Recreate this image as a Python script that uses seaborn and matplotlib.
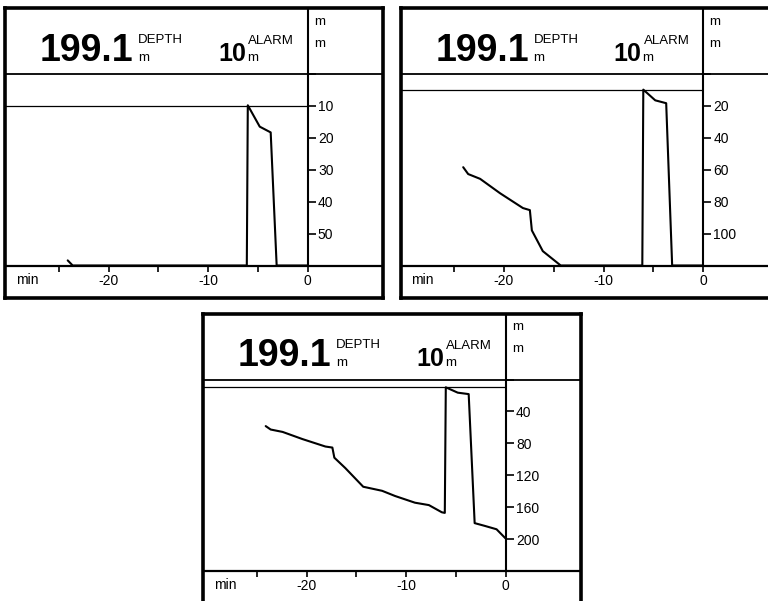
import numpy as np
import seaborn as sns
import matplotlib.pyplot as plt

minutes = [-24.1, -23.6, -22.4, -20.4, -18.1, -17.4, -17.2, -16.1, -14.3, -12.4,
           -11.1, -9.1, -7.7, -6.4, -6.1, -6.0, -4.8, -3.7, -3.1, -2.1, -0.9, 0.0]
depth = [58.4, 62.7, 65.7, 74.7, 84.0, 85.3, 98.0, 111.0, 134.4, 139.5,
         146.0, 154.4, 157.4, 166.4, 167.2, 9.8, 16.5, 18.3, 180.0, 183.4, 187.7, 199.1]

depth_now = "199.1"
alarm = 10
ranges = [60, 120, 240]
steps = [10, 20, 40]
x_ticks = [-25, -20, -15, -10, -5, 0]
x_labels = ["", "-20", "", "-10", "", "0"]

sns.set_style("white")
plt.rcParams["font.family"] = ["Liberation Sans", "DejaVu Sans"]
plt.rcParams["text.color"] = "black"

FW, FH = 768, 601
W, H = 378, 290
AXIS_X, TOP_Y, BOT_Y = 302.5, 66, 257.5
PX_PER_MIN = 9.95


def rect(x, y, w, h):
    return [x / FW, 1 - (y + h) / FH, w / FW, h / FH]


def draw_panel(fig, left, top, rng, step):
    box = fig.add_axes(rect(left, top, W, H))
    box.set_xlim(0, W)
    box.set_ylim(H, 0)
    box.set_xticks([])
    box.set_yticks([])
    for s in box.spines.values():
        s.set_linewidth(2.6)
        s.set_color("black")
    box.plot([0, W], [TOP_Y, TOP_Y], color="black", lw=1.3)
    box.plot([0, W], [BOT_Y, BOT_Y], color="black", lw=1.6)
    box.plot([AXIS_X, AXIS_X], [0, BOT_Y], color="black", lw=1.5)

    box.text(35, 53, depth_now, fontsize=27, fontweight="bold", va="baseline")
    box.text(133, 35, "DEPTH", fontsize=9.5, va="baseline")
    box.text(133, 53, "m", fontsize=9.5, va="baseline")
    box.text(213, 53, str(alarm), fontsize=18, fontweight="bold", va="baseline")
    box.text(243, 35.5, "ALARM", fontsize=9.5, va="baseline")
    box.text(242, 53, "m", fontsize=9.5, va="baseline")
    box.text(309, 17, "m", fontsize=9.5, va="baseline")
    box.text(309, 39, "m", fontsize=9.5, va="baseline")
    box.text(11, 275.5, "min", fontsize=10, va="baseline")

    ax = fig.add_axes(rect(left, top + TOP_Y, AXIS_X, BOT_Y - TOP_Y))
    ax.patch.set_alpha(0)
    sns.lineplot(x=minutes, y=np.clip(depth, 0, rng), ax=ax, color="black",
                 lw=1.5, sort=False, estimator=None, clip_on=False)
    ax.hlines(alarm, -AXIS_X / PX_PER_MIN, 0, color="black", lw=0.9)
    ax.set_xlim(-AXIS_X / PX_PER_MIN, 0)
    ax.set_ylim(rng, 0)
    ax.set_xlabel("")
    ax.set_ylabel("")
    for s in ax.spines.values():
        s.set_visible(False)
    yt = list(range(0, rng, step))
    ax.yaxis.tick_right()
    ax.set_yticks(yt)
    ax.set_yticklabels(["" if v == 0 else str(v) for v in yt])
    ax.set_xticks(x_ticks)
    ax.set_xticklabels(x_labels)
    ax.tick_params(axis="y", direction="out", length=6, width=1.2, pad=1.5,
                   labelsize=10, right=True, left=False, colors="black")
    ax.tick_params(axis="x", direction="out", length=4.3, width=1.2, pad=1.5,
                   labelsize=10, bottom=True, colors="black")


fig = plt.figure(figsize=(FW / 100, FH / 100), dpi=100)
draw_panel(fig, 5, 8, ranges[0], steps[0])
draw_panel(fig, 400.5, 8, ranges[1], steps[1])
draw_panel(fig, 203, 313.5, ranges[2], steps[2])
fig.savefig("out.png", dpi=100)
